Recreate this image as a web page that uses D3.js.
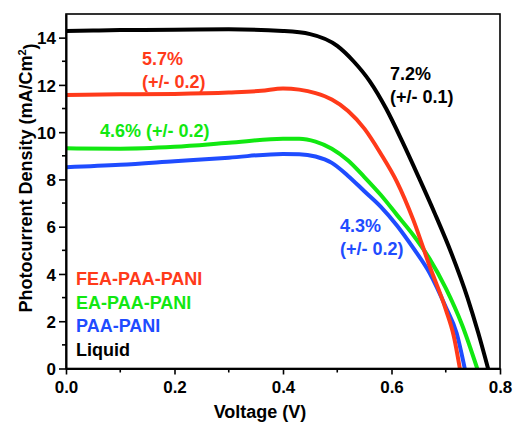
<!DOCTYPE html>
<html>
<head>
<meta charset="utf-8">
<script src="https://cdn.jsdelivr.net/npm/d3@7"></script>
<style>
  html, body { margin: 0; padding: 0; background: #fff; }
  text { font-family: "Liberation Sans", Arial, sans-serif; font-weight: bold; }
</style>
</head>
<body>
<svg id="chart" width="514" height="422"></svg>
<script>
// ---- data ----
const liquidV = [0, 0.05, 0.1, 0.2, 0.3, 0.4, 0.45, 0.5, 0.53, 0.56, 0.59, 0.62, 0.65, 0.68, 0.71, 0.74, 0.76, 0.778];
const liquidJ = [14.28, 14.3, 14.32, 14.33, 14.35, 14.28, 14.15, 13.65, 13.0, 12.15, 11.0, 9.6, 8.1, 6.55, 4.9, 3.0, 1.5, 0];

const feaV = [0, 0.1, 0.2, 0.3, 0.36, 0.4, 0.43, 0.46, 0.49, 0.52, 0.55, 0.58, 0.61, 0.64, 0.67, 0.70, 0.715, 0.726];
const feaJ = [11.57, 11.6, 11.62, 11.68, 11.75, 11.85, 11.8, 11.65, 11.38, 10.9, 10.15, 9.1, 7.9, 6.3, 4.35, 2.5, 1.35, 0];

const eaV = [0, 0.1, 0.2, 0.3, 0.4, 0.43, 0.46, 0.49, 0.52, 0.55, 0.58, 0.61, 0.64, 0.67, 0.70, 0.73, 0.758];
const eaJ = [9.32, 9.3, 9.38, 9.55, 9.72, 9.72, 9.6, 9.3, 8.8, 8.1, 7.35, 6.5, 5.65, 4.65, 3.4, 1.85, 0];

const paaV = [0, 0.1, 0.2, 0.3, 0.4, 0.43, 0.46, 0.49, 0.52, 0.55, 0.58, 0.61, 0.64, 0.67, 0.70, 0.72, 0.735];
const paaJ = [8.52, 8.62, 8.77, 8.92, 9.08, 9.07, 8.97, 8.7, 8.15, 7.5, 6.85, 6.05, 5.1, 4.05, 2.6, 1.5, 0];

const seriesNames = ["FEA-PAA-PANI", "EA-PAA-PANI", "PAA-PANI", "Liquid"];
const seriesColors = ["#ff3a1a", "#11e811", "#1f4cff", "#000000"];

const xTicks = [0, 0.2, 0.4, 0.6, 0.8];
const yTicks = [0, 2, 4, 6, 8, 10, 12, 14];
const xMinor = [0.1, 0.3, 0.5, 0.7];
const yMinor = [1, 3, 5, 7, 9, 11, 13];

const annotations = [
  { lines: ["5.7%", "(+/- 0.2)"], color: "#ff3a1a", x: 142, y: 65 },
  { lines: ["4.6% (+/- 0.2)"], color: "#11e811", x: 100, y: 137 },
  { lines: ["7.2%", "(+/- 0.1)"], color: "#000000", x: 390, y: 80 },
  { lines: ["4.3%", "(+/- 0.2)"], color: "#1f4cff", x: 340, y: 232 }
];

// ---- chart ----
const svg = d3.select("#chart");
const L = 66, R = 500, T = 14, B = 368.5;
const x = d3.scaleLinear().domain([0, 0.8]).range([L, R]);
const y = d3.scaleLinear().domain([0, 15]).range([B, T]);

const line = d3.line().x(d => x(d[0])).y(d => y(d[1])).curve(d3.curveMonotoneX);
const zip = (a, b) => a.map((v, i) => [v, b[i]]);

const drawOrder = [
  { v: liquidV, j: liquidJ, c: seriesColors[3] },
  { v: paaV, j: paaJ, c: seriesColors[2] },
  { v: eaV, j: eaJ, c: seriesColors[1] },
  { v: feaV, j: feaJ, c: seriesColors[0] }
];
svg.append("defs").append("clipPath").attr("id", "clip")
  .append("rect").attr("x", L).attr("y", T).attr("width", R - L).attr("height", B - T);

const g = svg.append("g").attr("clip-path", "url(#clip)");
drawOrder.forEach(s => {
  g.append("path").attr("d", line(zip(s.v, s.j)))
    .attr("fill", "none").attr("stroke", s.c).attr("stroke-width", 4)
    .attr("stroke-linejoin", "round");
});

// frame
svg.append("rect").attr("x", L).attr("y", T).attr("width", R - L).attr("height", B - T)
  .attr("fill", "none").attr("stroke", "#000").attr("stroke-width", 1.6);

// axes
const xAxis = d3.axisBottom(x).tickValues(xTicks).tickFormat(d3.format(".1f")).tickSize(6).tickSizeOuter(0);
const yAxis = d3.axisLeft(y).tickValues(yTicks).tickFormat(d3.format("d")).tickSize(7).tickSizeOuter(0);

const gx = svg.append("g").attr("transform", `translate(0,${B})`).call(xAxis);
const gy = svg.append("g").attr("transform", `translate(${L},0)`).call(yAxis);
[gx, gy].forEach(a => {
  a.select(".domain").attr("stroke", "#000").attr("stroke-width", 2);
  a.selectAll(".tick line").attr("stroke", "#000").attr("stroke-width", 1.6);
  a.selectAll(".tick text").attr("fill", "#000").style("font-size", "17px")
    .style("font-family", "'Liberation Sans', Arial, sans-serif").style("font-weight", "bold");
});
gx.selectAll(".tick text").attr("dy", null).attr("y", 24);
gy.selectAll(".tick text").attr("x", -10).attr("dy", "0.36em");

// minor ticks
svg.append("g").selectAll("line").data(xMinor).join("line")
  .attr("x1", d => x(d)).attr("x2", d => x(d)).attr("y1", B).attr("y2", B + 4)
  .attr("stroke", "#000").attr("stroke-width", 1.6);
svg.append("g").selectAll("line").data(yMinor).join("line")
  .attr("x1", L - 4).attr("x2", L).attr("y1", d => y(d)).attr("y2", d => y(d))
  .attr("stroke", "#000").attr("stroke-width", 1.6);

// axis titles
svg.append("text").attr("x", 260).attr("y", 418).attr("text-anchor", "middle")
  .style("font-size", "18px").text("Voltage (V)");
const yl = svg.append("text").attr("transform", "translate(32,178) rotate(-90)")
  .attr("text-anchor", "middle").style("font-size", "18px");
yl.append("tspan").text("Photocurrent Density (mA/Cm");
yl.append("tspan").attr("dy", "-0.55em").style("font-size", "11px").text("2");
yl.append("tspan").attr("dy", "0.55em").text(")");

// legend
seriesNames.forEach((n, i) => {
  svg.append("text").attr("x", 76).attr("y", 285 + i * 23.5)
    .attr("fill", seriesColors[i]).style("font-size", "18px").text(n);
});

// annotations
annotations.forEach(a => {
  a.lines.forEach((t, i) => {
    svg.append("text").attr("x", a.x).attr("y", a.y + i * 23)
      .attr("fill", a.color).style("font-size", "18px").text(t);
  });
});
</script>
</body>
</html>
